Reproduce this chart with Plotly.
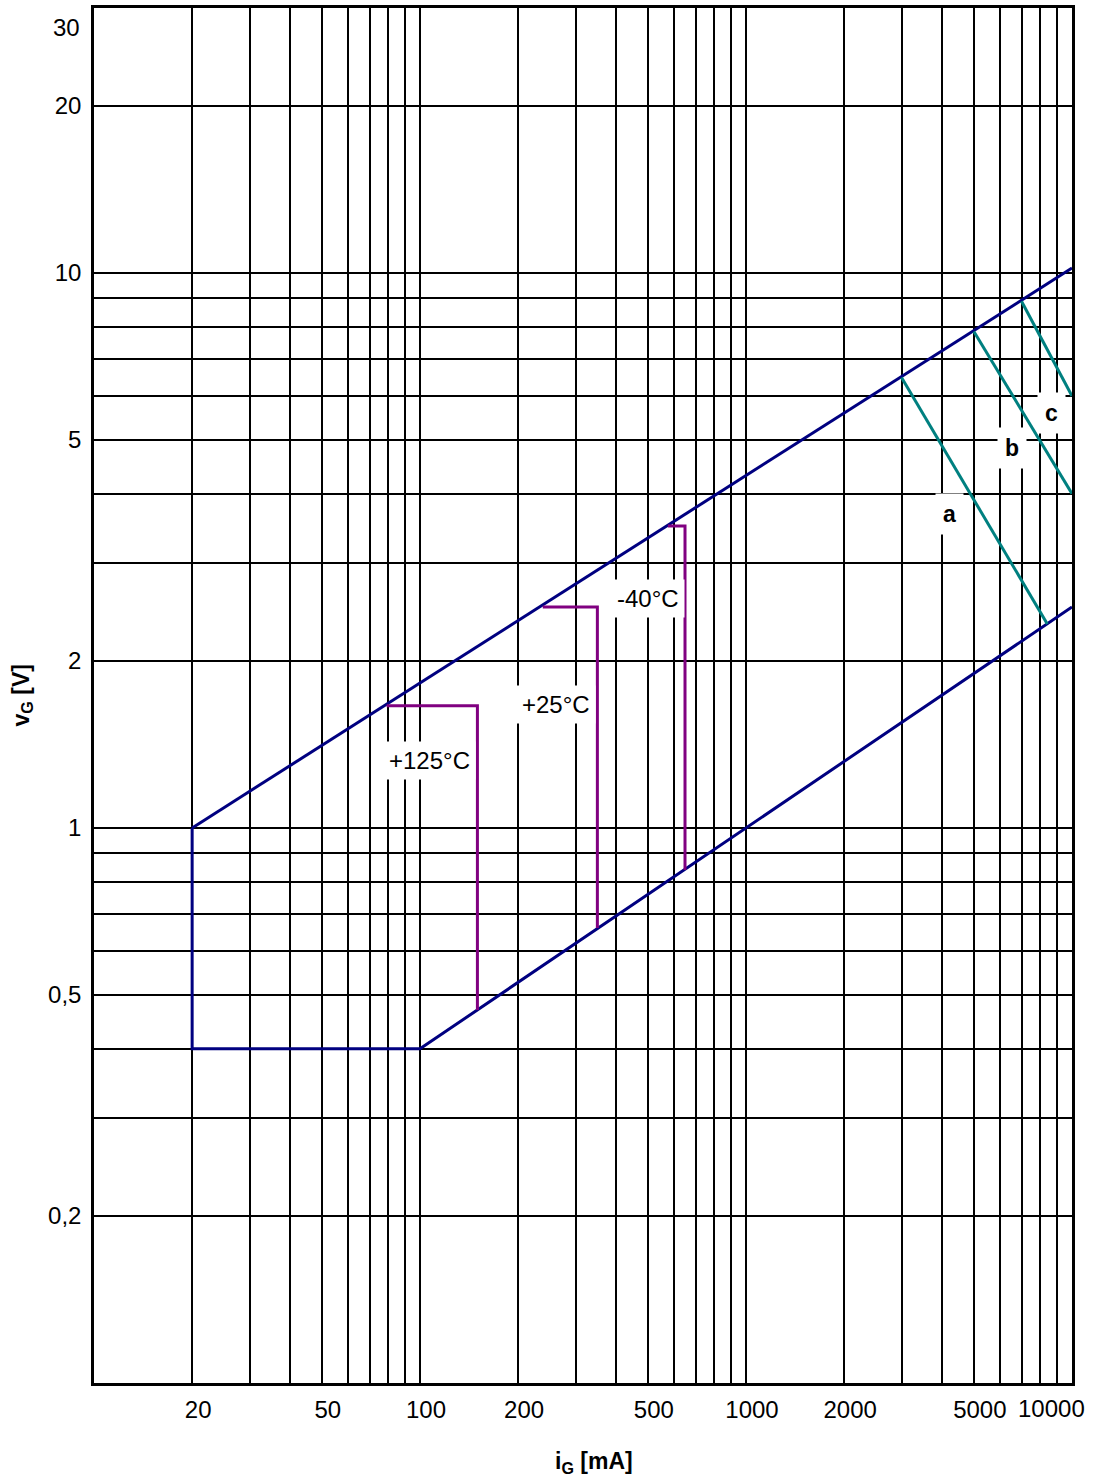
#python3

"""
Gate trigger characteristic: v_G over i_G, log-log
"""

import math
import plotly.graph_objects as go

# gate current [mA] / gate voltage [V] for each curve
border_top_i = [20, 10000]
border_top_v = [1.0, 10.2]
border_low_i = [20, 20, 100, 10000]
border_low_v = [1.0, 0.4, 0.4, 2.5]

temp_names = ["+125°C", "+25°C", "-40°C"]
temp_i = [[79, 150, 150], [238, 350, 350], [576, 650, 650]]
temp_v = [[1.66, 1.66, 0.47], [2.5, 2.5, 0.66], [3.5, 3.5, 0.84]]
temp_label_i = [107, 261, 500]
temp_label_v = [1.325, 1.67, 2.59]

pulse_names = ["a", "b", "c"]
pulse_i = [[3000, 8400], [5000, 10000], [7000, 10000]]
pulse_v = [[6.48, 2.33], [7.84, 4.0], [8.89, 6.0]]
pulse_label_i = [4200, 6550, 8630]
pulse_label_v = [3.67, 4.83, 5.58]

x_grid = [20, 30, 40, 50, 60, 70, 80, 90, 100,
          200, 300, 400, 500, 600, 700, 800, 900, 1000,
          2000, 3000, 4000, 5000, 6000, 7000, 8000, 9000, 10000]
x_labels = {20: "20", 50: "50", 100: "100", 200: "200", 500: "500",
            1000: "1000", 2000: "2000", 5000: "5000"}
y_grid = [0.2, 0.3, 0.4, 0.5, 0.6, 0.7, 0.8, 0.9,
          1, 2, 3, 4, 5, 6, 7, 8, 9, 10, 20, 30]
y_labels = {0.2: "0,2", 0.5: "0,5", 1: "1", 2: "2", 5: "5", 10: "10", 20: "20"}

NAVY = "#000080"
PURPLE = "#800080"
TEAL = "#008080"
FONT = "Liberation Sans, Arial, sans-serif"

data = []
data.append(go.Scatter(x=border_top_i, y=border_top_v, mode="lines",
                       line={"color": NAVY, "width": 3}))
data.append(go.Scatter(x=border_low_i, y=border_low_v, mode="lines",
                       line={"color": NAVY, "width": 3}))
for xs, ys in zip(temp_i, temp_v):
    data.append(go.Scatter(x=xs, y=ys, mode="lines", line={"color": PURPLE, "width": 3}))
for xs, ys in zip(pulse_i, pulse_v):
    data.append(go.Scatter(x=xs, y=ys, mode="lines", line={"color": TEAL, "width": 3}))

annotations = []
for name, x, y in zip(temp_names, temp_label_i, temp_label_v):
    annotations.append({"x": math.log10(x), "y": math.log10(y), "xref": "x", "yref": "y",
                        "text": name, "showarrow": False, "bgcolor": "white",
                        "borderpad": 5, "font": {"size": 24, "color": "black", "family": FONT}})
for name, x, y in zip(pulse_names, pulse_label_i, pulse_label_v):
    annotations.append({"x": math.log10(x), "y": math.log10(y), "xref": "x", "yref": "y",
                        "text": "<b>%s</b>" % name, "showarrow": False, "bgcolor": "white",
                        "borderpad": 7, "font": {"size": 23, "color": "black", "family": FONT}})

# edge tick labels that sit inside the frame
annotations.append({"x": 0, "y": math.log10(30), "xref": "paper", "yref": "y",
                    "text": "30", "showarrow": False, "xanchor": "right", "yanchor": "middle",
                    "xshift": -12, "yshift": -19, "font": {"size": 24, "color": "black", "family": FONT}})
annotations.append({"x": 4, "y": 0, "xref": "x", "yref": "paper",
                    "text": "10000", "showarrow": False, "xanchor": "right", "yanchor": "top",
                    "xshift": 15, "yshift": -10, "font": {"size": 24, "color": "black", "family": FONT}})

# axis titles
annotations.append({"x": -72 / 978.0, "y": 0.5, "xref": "paper", "yref": "paper",
                    "xanchor": "center", "yanchor": "middle",
                    "text": "<b>v<sub>G</sub> [V]</b>", "showarrow": False, "textangle": -90,
                    "font": {"size": 23, "color": "black", "family": FONT}})
annotations.append({"x": 0.511, "y": -79 / 1375.0, "xref": "paper", "yref": "paper",
                    "xanchor": "center", "yanchor": "middle",
                    "text": "<b>i<sub>G</sub> [mA]</b>", "showarrow": False,
                    "font": {"size": 23, "color": "black", "family": FONT}})

layout = go.Layout(
    width=1094, height=1476,
    margin={"l": 94, "r": 22, "t": 8, "b": 93},
    paper_bgcolor="white", plot_bgcolor="white",
    showlegend=False,
    font={"family": FONT, "size": 24, "color": "black"},
    xaxis={"type": "log", "range": [1, 4], "tickmode": "array", "tickvals": x_grid,
           "ticktext": [x_labels.get(v, "") for v in x_grid],
           "showgrid": True, "gridcolor": "black", "gridwidth": 1.6,
           "showline": True, "linecolor": "black", "linewidth": 2.5, "mirror": True,
           "ticks": "", "zeroline": False, "automargin": False, "ticklabelshift": 6,
           "ticklabelstandoff": 3},
    yaxis={"type": "log", "range": [-1, math.log10(30)], "tickmode": "array", "tickvals": y_grid,
           "ticktext": [y_labels.get(v, "") for v in y_grid],
           "showgrid": True, "gridcolor": "black", "gridwidth": 1.6,
           "showline": True, "linecolor": "black", "linewidth": 2.5, "mirror": True,
           "ticks": "", "zeroline": False, "automargin": False, "ticklabelstandoff": 5},
    annotations=annotations,
)

fig = go.Figure(data=data, layout=layout)
fig.write_html("out.html", config={"displayModeBar": False},
               post_script="document.body.style.margin = '0';")
